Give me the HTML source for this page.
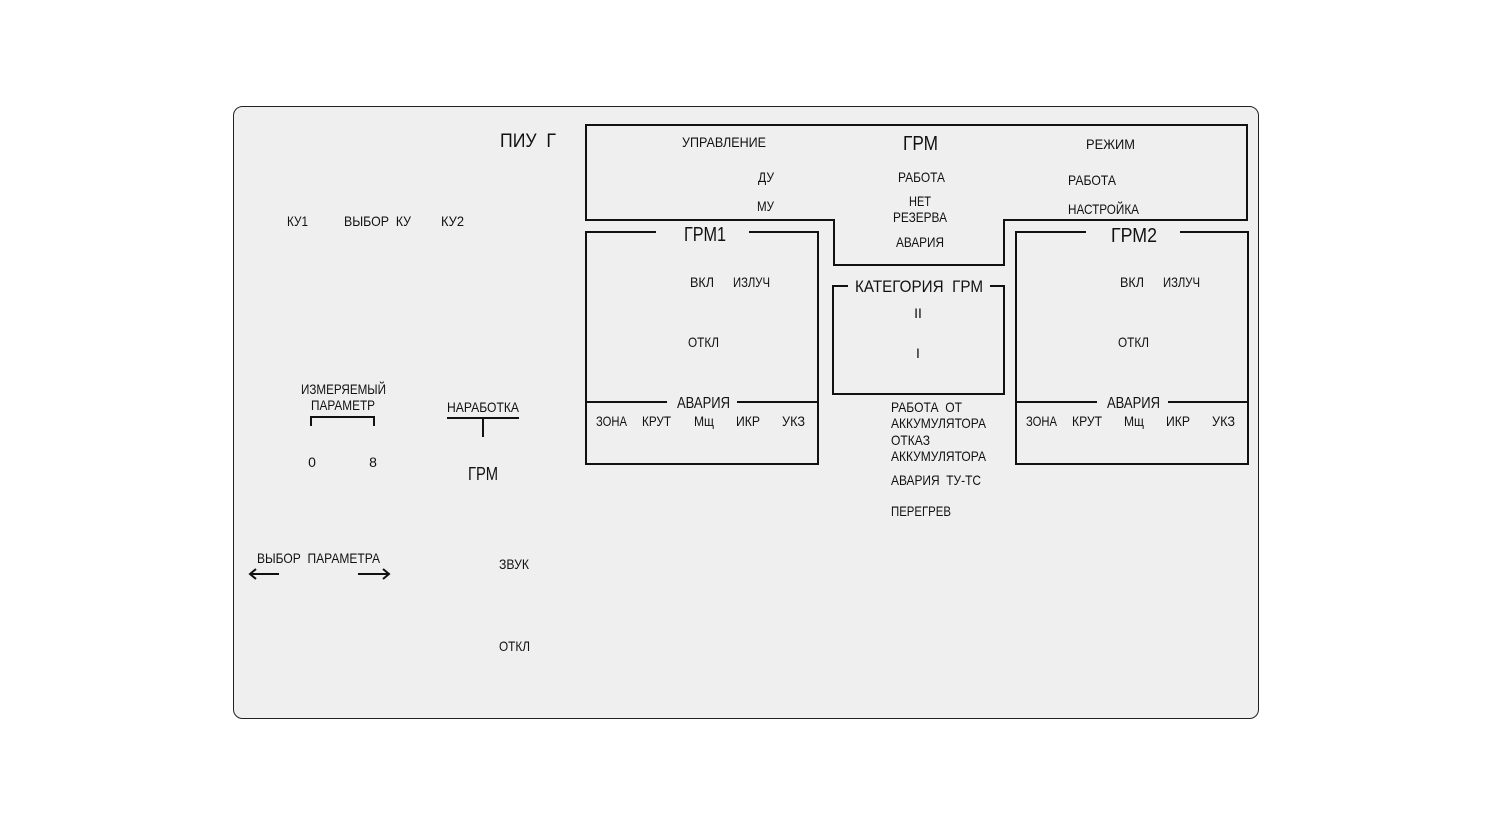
<!DOCTYPE html>
<html><head><meta charset="utf-8"><style>
html,body{margin:0;padding:0;background:#fff;}
svg text{font-family:"Liberation Sans",sans-serif;fill:#111;}
</style></head><body>
<svg width="1491" height="832" viewBox="0 0 1491 832" xmlns="http://www.w3.org/2000/svg">
<rect x="233.5" y="106.5" width="1025" height="612" rx="9" fill="#efefef" stroke="#222" stroke-width="1"/>
<g fill="none" stroke="#111" stroke-width="2">
<path d="M586,125 H1247 V220 H1004 V265 H834 V220 H586 Z"/>
<path d="M656,232 H586 V464 H818 V232 H749"/>
<path d="M586,402 H667 M737,402 H818"/>
<path d="M1086,232 H1016 V464 H1248 V232 H1180"/>
<path d="M1016,402 H1097 M1168,402 H1248"/>
<path d="M848,286 H833 V394 H1004 V286 H990"/>
<path d="M311,426 V417 H374 V426"/>
<path d="M447,418 H519 M483,418 V437"/>
<path d="M250,574 H279 M256,569 L250,574 L256,579"/>
<path d="M358,574 H389 M383,569 L389,574 L383,579"/>
</g>
<g font-size="14">
<text x="500" y="147" font-size="19" textLength="56" lengthAdjust="spacingAndGlyphs" xml:space="preserve">ПИУ  Г</text>
<text x="682" y="147" textLength="84" lengthAdjust="spacingAndGlyphs">УПРАВЛЕНИЕ</text>
<text x="903" y="150" font-size="20" textLength="35" lengthAdjust="spacingAndGlyphs">ГРМ</text>
<text x="1086" y="149" textLength="49" lengthAdjust="spacingAndGlyphs">РЕЖИМ</text>
<text x="758" y="182" textLength="16" lengthAdjust="spacingAndGlyphs">ДУ</text>
<text x="898" y="182" textLength="47" lengthAdjust="spacingAndGlyphs">РАБОТА</text>
<text x="1068" y="185" textLength="48" lengthAdjust="spacingAndGlyphs">РАБОТА</text>
<text x="757" y="211" textLength="17" lengthAdjust="spacingAndGlyphs">МУ</text>
<text x="909" y="206" textLength="22" lengthAdjust="spacingAndGlyphs">НЕТ</text>
<text x="893" y="222" textLength="54" lengthAdjust="spacingAndGlyphs">РЕЗЕРВА</text>
<text x="1068" y="214" textLength="71" lengthAdjust="spacingAndGlyphs">НАСТРОЙКА</text>
<text x="896" y="247" textLength="48" lengthAdjust="spacingAndGlyphs">АВАРИЯ</text>
<text x="684" y="241" font-size="20" textLength="42" lengthAdjust="spacingAndGlyphs">ГРМ1</text>
<text x="1111" y="242" font-size="20" textLength="46" lengthAdjust="spacingAndGlyphs">ГРМ2</text>
<text x="690" y="287" textLength="24" lengthAdjust="spacingAndGlyphs">ВКЛ</text>
<text x="733" y="287" textLength="37" lengthAdjust="spacingAndGlyphs">ИЗЛУЧ</text>
<text x="1120" y="287" textLength="24" lengthAdjust="spacingAndGlyphs">ВКЛ</text>
<text x="1163" y="287" textLength="37" lengthAdjust="spacingAndGlyphs">ИЗЛУЧ</text>
<text x="688" y="347" textLength="31" lengthAdjust="spacingAndGlyphs">ОТКЛ</text>
<text x="1118" y="347" textLength="31" lengthAdjust="spacingAndGlyphs">ОТКЛ</text>
<text x="855" y="292" font-size="17" textLength="128" lengthAdjust="spacingAndGlyphs" xml:space="preserve">КАТЕГОРИЯ  ГРМ</text>
<text x="918" y="318" text-anchor="middle">II</text>
<text x="918" y="358" text-anchor="middle">I</text>
<text x="677" y="408" font-size="16" textLength="53" lengthAdjust="spacingAndGlyphs">АВАРИЯ</text>
<text x="1107" y="408" font-size="16" textLength="53" lengthAdjust="spacingAndGlyphs">АВАРИЯ</text>
<text x="596" y="426" textLength="31" lengthAdjust="spacingAndGlyphs">ЗОНА</text>
<text x="642" y="426" textLength="29" lengthAdjust="spacingAndGlyphs">КРУТ</text>
<text x="694" y="426" textLength="20" lengthAdjust="spacingAndGlyphs">Мщ</text>
<text x="736" y="426" textLength="24" lengthAdjust="spacingAndGlyphs">ИКР</text>
<text x="782" y="426" textLength="23" lengthAdjust="spacingAndGlyphs">УКЗ</text>
<text x="1026" y="426" textLength="31" lengthAdjust="spacingAndGlyphs">ЗОНА</text>
<text x="1072" y="426" textLength="30" lengthAdjust="spacingAndGlyphs">КРУТ</text>
<text x="1124" y="426" textLength="20" lengthAdjust="spacingAndGlyphs">Мщ</text>
<text x="1166" y="426" textLength="24" lengthAdjust="spacingAndGlyphs">ИКР</text>
<text x="1212" y="426" textLength="23" lengthAdjust="spacingAndGlyphs">УКЗ</text>
<text x="891" y="412" textLength="71" lengthAdjust="spacingAndGlyphs" xml:space="preserve">РАБОТА  ОТ</text>
<text x="891" y="428" textLength="95" lengthAdjust="spacingAndGlyphs">АККУМУЛЯТОРА</text>
<text x="891" y="445" textLength="39" lengthAdjust="spacingAndGlyphs">ОТКАЗ</text>
<text x="891" y="461" textLength="95" lengthAdjust="spacingAndGlyphs">АККУМУЛЯТОРА</text>
<text x="891" y="485" textLength="90" lengthAdjust="spacingAndGlyphs" xml:space="preserve">АВАРИЯ  ТУ-ТС</text>
<text x="891" y="516" textLength="60" lengthAdjust="spacingAndGlyphs">ПЕРЕГРЕВ</text>
<text x="287" y="226" textLength="21" lengthAdjust="spacingAndGlyphs">КУ1</text>
<text x="344" y="226" textLength="67" lengthAdjust="spacingAndGlyphs" xml:space="preserve">ВЫБОР  КУ</text>
<text x="441" y="226" textLength="23" lengthAdjust="spacingAndGlyphs">КУ2</text>
<text x="301" y="394" textLength="85" lengthAdjust="spacingAndGlyphs">ИЗМЕРЯЕМЫЙ</text>
<text x="311" y="410" textLength="64" lengthAdjust="spacingAndGlyphs">ПАРАМЕТР</text>
<text x="447" y="412" textLength="72" lengthAdjust="spacingAndGlyphs">НАРАБОТКА</text>
<text x="312" y="467" text-anchor="middle">0</text>
<text x="373" y="467" text-anchor="middle">8</text>
<text x="468" y="480" font-size="18" textLength="30" lengthAdjust="spacingAndGlyphs">ГРМ</text>
<text x="257" y="563" textLength="123" lengthAdjust="spacingAndGlyphs" xml:space="preserve">ВЫБОР  ПАРАМЕТРА</text>
<text x="499" y="569" textLength="30" lengthAdjust="spacingAndGlyphs">ЗВУК</text>
<text x="499" y="651" textLength="31" lengthAdjust="spacingAndGlyphs">ОТКЛ</text>
</g>
</svg>
</body></html>
